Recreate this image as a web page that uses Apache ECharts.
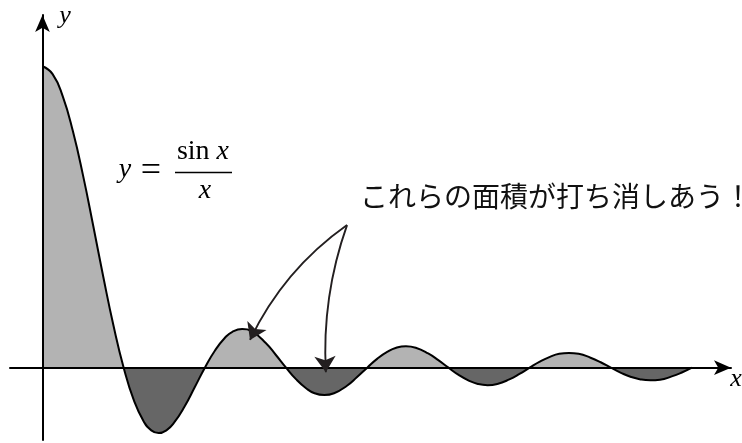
<!DOCTYPE html>
<html>
<head>
<meta charset="utf-8">
<script src="https://cdn.jsdelivr.net/npm/echarts@6/dist/echarts.min.js"></script>
<style>
	html, body { margin: 0; padding: 0; background: #fff; }
	#container1 { width: 742px; height: 443px; }
</style>
</head>
<body>
<div id="container1"></div>
<script>
// x in units of pi, y = sin(x)/x (extra points at each hump top)
var xs = [0, 0.125, 0.25, 0.375, 0.5, 0.625, 0.75, 0.875,
	1, 1.125, 1.25, 1.34, 1.43, 1.53, 1.625, 1.75, 1.875,
	2, 2.125, 2.25, 2.339, 2.459, 2.579, 2.75, 2.875,
	3, 3.125, 3.25, 3.351, 3.471, 3.591, 3.75, 3.875,
	4, 4.125, 4.25, 4.357, 4.477, 4.597, 4.75, 4.875,
	5, 5.125, 5.25, 5.362, 5.482, 5.602, 5.75, 5.875,
	6, 6.125, 6.25, 6.364, 6.484, 6.604, 6.75, 6.875,
	7, 7.125, 7.25, 7.366, 7.486, 7.606, 7.75, 7.875, 8];
var ys = [1, 0.974, 0.900, 0.784, 0.637, 0.471, 0.300, 0.139,
	0, -0.108, -0.180, -0.208, -0.217, -0.207, -0.181, -0.129, -0.065,
	0, 0.057, 0.100, 0.119, 0.128, 0.120, 0.082, 0.042,
	0, -0.039, -0.069, -0.085, -0.091, -0.085, -0.060, -0.031,
	0, 0.030, 0.053, 0.066, 0.071, 0.066, 0.047, 0.025,
	0, -0.024, -0.043, -0.054, -0.058, -0.054, -0.039, -0.021,
	0, 0.020, 0.036, 0.046, 0.049, 0.046, 0.033, 0.018,
	0, -0.017, -0.031, -0.039, -0.042, -0.040, -0.029, -0.016, 0];
// annotation arrows: common start, tips, bend of each
var arrowFrom = [3.751, 0.473];
var arrowTo = [[2.556, 0.092], [3.490, -0.015]];
var arrowBend = [-0.13, -0.1];

var fillPos = '#b3b3b3', fillNeg = '#666666';

// split the curve into its positive and negative lobes (zeros belong to both)
var curve = [], posPart = [], negPart = [];
for (var i = 0; i < xs.length; i++) {
	curve.push([xs[i], ys[i]]);
	posPart.push([xs[i], ys[i] >= 0 ? ys[i] : null]);
	negPart.push([xs[i], ys[i] <= 0 ? ys[i] : null]);
}
var arrows = [];
for (var j = 0; j < arrowTo.length; j++) {
	arrows.push({ coords : [ arrowFrom, arrowTo[j] ], lineStyle : { curveness : arrowBend[j] } });
}

var serif = 'Liberation Serif';
var hiddenAxis = {
	axisTick : { show : false },
	axisLabel : { show : false },
	splitLine : { show : false }
};
function fillSeries(data, color) {
	return {
		type : 'line',
		data : data,
		smooth : true,
		showSymbol : false,
		silent : true,
		connectNulls : false,
		z : 2,
		lineStyle : { width : 0 },
		itemStyle : { color : color },
		areaStyle : { color : color, opacity : 1 }
	};
}

var dom = document.getElementById("container1");
var myChart = echarts.init(dom);
myChart.setOption({
	animation : false,
	grid : {
		left : 10,
		right : 11,
		top : 15,
		bottom : 3,
		containLabel : false
	},
	xAxis : echarts.util.extend({
		type : 'value',
		min : -0.4,
		max : 8.48,
		z : 5,
		axisLine : {
			onZero : true,
			symbol : [ 'none', 'arrow' ],
			symbolSize : [ 11, 17 ],
			lineStyle : { color : '#000', width : 2 }
		}
	}, hiddenAxis),
	yAxis : echarts.util.extend({
		type : 'value',
		min : -0.24,
		max : 1.17,
		z : 5,
		axisLine : {
			onZero : true,
			symbol : [ 'none', 'arrow' ],
			symbolSize : [ 11, 17 ],
			lineStyle : { color : '#000', width : 2 }
		}
	}, hiddenAxis),
	series : [ fillSeries(posPart, fillPos), fillSeries(negPart, fillNeg), {
		type : 'line',
		data : curve,
		smooth : true,
		showSymbol : false,
		silent : true,
		z : 6,
		lineStyle : { color : '#000', width : 2 }
	}, {
		type : 'lines',
		coordinateSystem : 'cartesian2d',
		silent : true,
		z : 7,
		symbol : [ 'none', 'arrow' ],
		symbolSize : 16,
		lineStyle : { color : '#231f20', width : 1.9, opacity : 1 },
		data : arrows
	} ],
	graphic : [ {
		type : 'text', style : { x : 65, y : 16, text : 'y', fill : '#000', font : 'italic 26px "' + serif + '"', align : 'center', verticalAlign : 'middle' }
	}, {
		type : 'text', style : { x : 736, y : 379, text : 'x', fill : '#000', font : 'italic 26px "' + serif + '"', align : 'center', verticalAlign : 'middle' }
	}, {
		type : 'text', style : { x : 125, y : 170, text : 'y', fill : '#000', font : 'italic 28px "' + serif + '"', align : 'center', verticalAlign : 'middle' }
	}, {
		type : 'text', style : { x : 151, y : 172, text : '=', fill : '#000', font : '36px "' + serif + '"', align : 'center', verticalAlign : 'middle' }
	}, {
		type : 'text', style : { x : 203, y : 152, text : '{r|sin }{i|x}', fill : '#000', align : 'center', verticalAlign : 'middle',
			rich : { r : { font : '28px "' + serif + '"' }, i : { font : 'italic 28px "' + serif + '"' } } }
	}, {
		type : 'line', shape : { x1 : 175, y1 : 172.5, x2 : 232, y2 : 172.5 }, style : { stroke : '#000', lineWidth : 1.3 }
	}, {
		type : 'text', style : { x : 205, y : 191, text : 'x', fill : '#000', font : 'italic 28px "' + serif + '"', align : 'center', verticalAlign : 'middle' }
	}, {
		type : 'text', style : { x : 360, y : 196, text : 'これらの面積が打ち消しあう！', fill : '#111', font : '28px "Noto Sans CJK JP"', align : 'left', verticalAlign : 'middle' }
	} ]
});
</script>
</body>
</html>
